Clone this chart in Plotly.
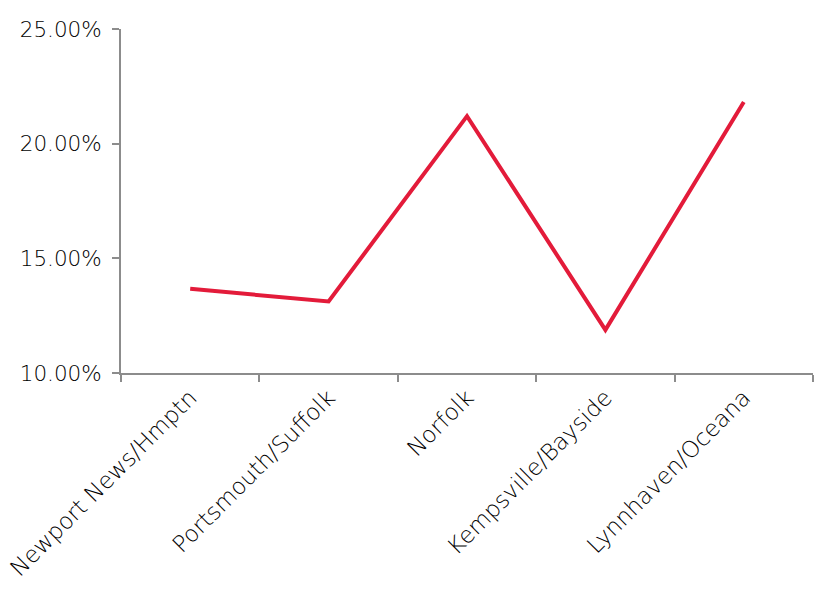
import plotly.graph_objects as go

categories = ["Newport News/Hmptn", "Portsmouth/Suffolk", "Norfolk", "Kempsville/Bayside", "Lynnhaven/Oceana"]
values = [0.1367, 0.1312, 0.2120, 0.1188, 0.2182]
y_ticks = [0.10, 0.15, 0.20, 0.25]
y_tick_labels = ["10.00%", "15.00%", "20.00%", "25.00%"]

fig = go.Figure()
fig.add_trace(go.Scatter(
    x=categories, y=values, mode="lines",
    line=dict(color="#E31B3A", width=4),
    hoverinfo="skip",
))

axis_color = "#8C8C8C"
xfont = dict(family="DejaVu Sans", size=23, color="#000000", weight=200)
yfont = dict(family="DejaVu Sans", size=21.5, color="#000000", weight=200)

fig.update_layout(
    width=814, height=612,
    margin=dict(l=121, r=1, t=29, b=239),
    paper_bgcolor="white", plot_bgcolor="white",
    showlegend=False,
    font=yfont,
)
fig.update_xaxes(
    type="category", tickson="boundaries", automargin=False,
    showline=True, linecolor=axis_color, linewidth=2,
    ticks="outside", ticklen=7, tickwidth=2, tickcolor=axis_color,
    tickangle=-45, showgrid=False, zeroline=False,
    tickfont=xfont, range=[-0.5, 4.5],
)
fig.update_yaxes(
    range=[0.10, 0.25], tickvals=y_ticks, ticktext=y_tick_labels, automargin=False,
    showline=True, linecolor=axis_color, linewidth=2,
    ticks="outside", ticklen=7, tickwidth=2, tickcolor=axis_color,
    showgrid=False, zeroline=False, tickfont=yfont, ticklabelstandoff=6,
)

fig.write_html("out.html", config={"displayModeBar": False},
               post_script="document.body.style.margin='0';")
